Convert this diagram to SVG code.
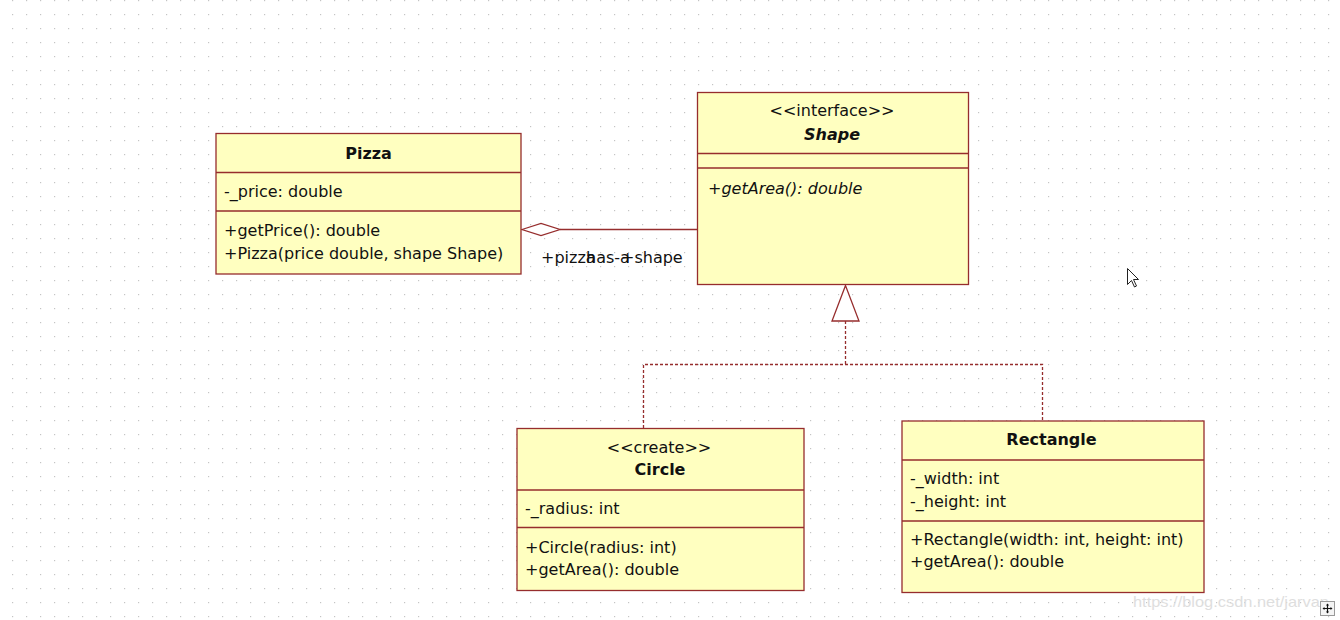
<svg xmlns="http://www.w3.org/2000/svg" width="1340" height="620" viewBox="0 0 1340 620">
<defs>
<pattern id="grid" x="12" y="0" width="14" height="14" patternUnits="userSpaceOnUse">
<rect x="0" y="0" width="1.2" height="1.2" fill="#c4c4c4"/>
</pattern>
<style>
.box{fill:#ffffc0;stroke:#962d2d;stroke-width:1.3}
.sep{stroke:#962d2d;stroke-width:1.3}
.t{font-family:"DejaVu Sans",Verdana,sans-serif;font-size:16px;fill:#111}
.b{font-weight:bold}
.i{font-style:italic}
.c{text-anchor:middle}
.con{fill:none;stroke:#962d2d;stroke-width:1.3}
.dash{stroke-dasharray:3,2}
</style>
</defs>
<rect width="1340" height="620" fill="#ffffff"/>
<rect width="1340" height="620" fill="url(#grid)"/>

<g id="connectors">
<polygon class="con" points="522,229.5 541,223.5 560,229.5 541,235.5" fill="#ffffff" style="fill:#ffffff"/>
<line class="con" x1="560" y1="229.5" x2="697.5" y2="229.5"/>
<text class="t" x="541" y="263">+pizza</text>
<text class="t" x="586" y="263">has-a</text>
<text class="t" x="621" y="263">+shape</text>
<polygon class="con" points="845.5,285.5 832,321 859,321" style="fill:#ffffff"/>
<path class="con dash" d="M845.5,321 V364.5 M643.5,428 V364.5 H1042.5 V420.5"/>
</g>

<g id="pizza">
<rect class="box" x="216" y="133.5" width="305" height="140.5"/>
<line class="sep" x1="216" y1="172.5" x2="521" y2="172.5"/>
<line class="sep" x1="216" y1="211" x2="521" y2="211"/>
<text class="t b c" x="368.5" y="159">Pizza</text>
<text class="t" x="224" y="197">-_price: double</text>
<text class="t" x="224" y="236">+getPrice(): double</text>
<text class="t" x="224" y="258.5">+Pizza(price double, shape Shape)</text>
</g>

<g id="shape">
<rect class="box" x="697.5" y="92.5" width="271" height="192"/>
<line class="sep" x1="697.5" y1="153.5" x2="968.5" y2="153.5"/>
<line class="sep" x1="697.5" y1="168" x2="968.5" y2="168"/>
<text class="t c" x="832" y="116">&lt;&lt;interface&gt;&gt;</text>
<text class="t b i c" x="832" y="140">Shape</text>
<text class="t i" x="708" y="193.5">+getArea(): double</text>
</g>

<g id="circle">
<rect class="box" x="517" y="428.5" width="287" height="162"/>
<line class="sep" x1="517" y1="490" x2="804" y2="490"/>
<line class="sep" x1="517" y1="527.5" x2="804" y2="527.5"/>
<text class="t c" x="659" y="452.5">&lt;&lt;create&gt;&gt;</text>
<text class="t b c" x="660" y="475">Circle</text>
<text class="t" x="525" y="513.5">-_radius: int</text>
<text class="t" x="525" y="552.5">+Circle(radius: int)</text>
<text class="t" x="525" y="575">+getArea(): double</text>
</g>

<g id="rectangle">
<rect class="box" x="902" y="421" width="302" height="171.5"/>
<line class="sep" x1="902" y1="460" x2="1204" y2="460"/>
<line class="sep" x1="902" y1="521" x2="1204" y2="521"/>
<text class="t b c" x="1051.5" y="445">Rectangle</text>
<text class="t" x="910" y="484">-_width: int</text>
<text class="t" x="910" y="506.5">-_height: int</text>
<text class="t" x="910" y="545">+Rectangle(width: int, height: int)</text>
<text class="t" x="910" y="567">+getArea(): double</text>
</g>

<polygon points="1127.5,268.5 1127.5,284.5 1131.5,280.5 1134.5,287 1136.5,286 1133.5,279.5 1138.5,279.5" fill="#ffffff" stroke="#222" stroke-width="1"/>

<text x="1133" y="607" font-family="Liberation Sans, Arial, sans-serif" font-size="15" fill="#dedede" textLength="196" lengthAdjust="spacingAndGlyphs">https://blog.csdn.net/jarvan</text>
<g id="move-icon">
<rect x="1320.5" y="601.5" width="14" height="14" fill="#f4f4f4" stroke="#9a9a9a" stroke-width="1"/>
<path d="M1327.5,604 V613 M1323,608.5 H1332" stroke="#111" stroke-width="1.2"/>
<path d="M1326,605.5 L1327.5,603.5 L1329,605.5 Z M1326,611.5 L1327.5,613.5 L1329,611.5 Z M1324.5,607 L1322.5,608.5 L1324.5,610 Z M1330.5,607 L1332.5,608.5 L1330.5,610 Z" fill="#111"/>
</g>
</svg>
